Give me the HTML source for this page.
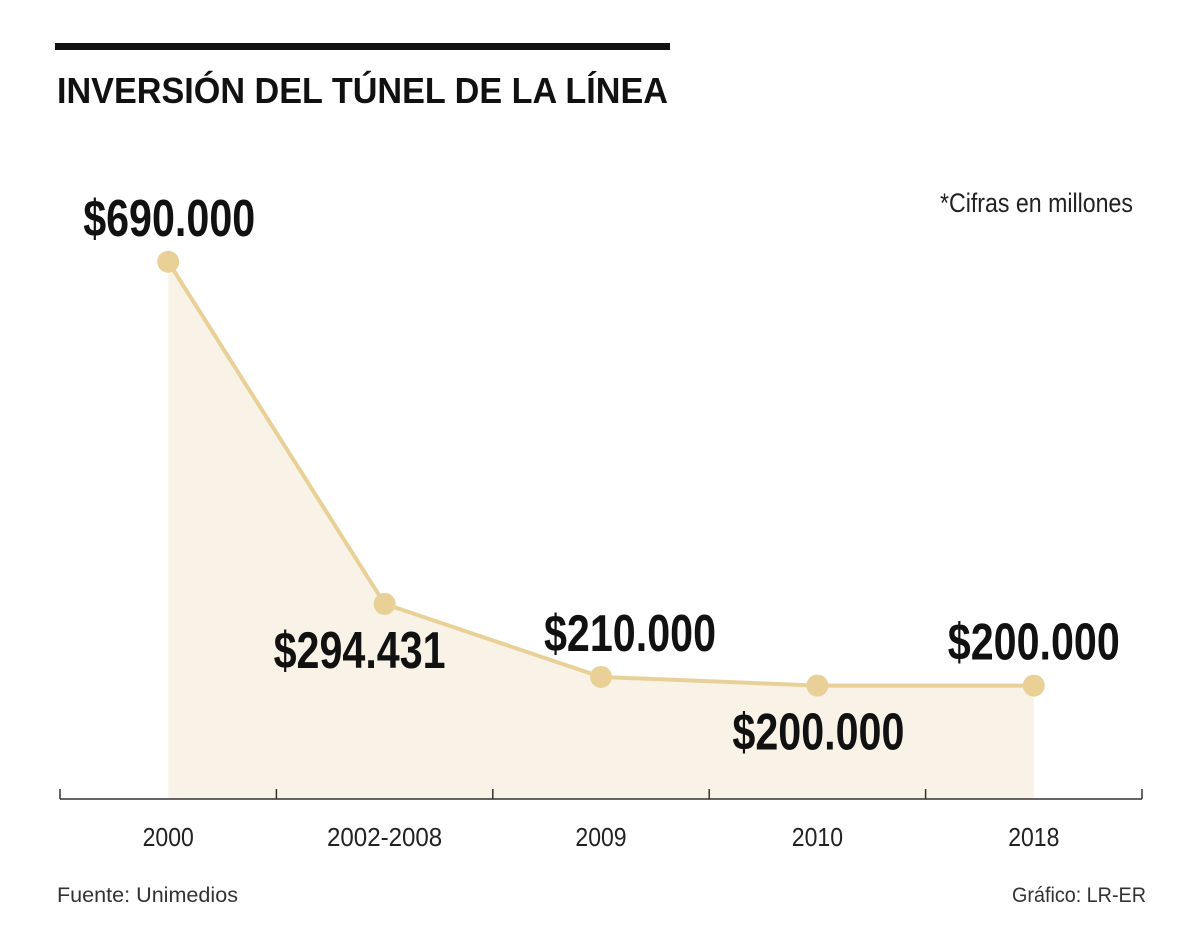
<!DOCTYPE html>
<html><head><meta charset="utf-8"><style>
html,body{margin:0;padding:0;background:#fff;}
svg{display:block;font-family:"Liberation Sans",sans-serif;}
</style></head><body>
<svg id="chart" width="1200" height="950" viewBox="0 0 1200 950" xmlns="http://www.w3.org/2000/svg">
<rect x="55" y="43" width="615" height="7" fill="#111"/>
<text x="57" y="103" font-size="36" font-weight="bold" fill="#111" textLength="611" lengthAdjust="spacingAndGlyphs">INVERSIÓN DEL TÚNEL DE LA LÍNEA</text>
<text x="940" y="212" font-size="27" fill="#222" textLength="193" lengthAdjust="spacingAndGlyphs">*Cifras en millones</text>
<g id="plot"></g>
<text x="57" y="902" font-size="21" fill="#333" textLength="181" lengthAdjust="spacingAndGlyphs">Fuente: Unimedios</text>
<text x="1146" y="902" font-size="21" fill="#333" text-anchor="end" textLength="134" lengthAdjust="spacingAndGlyphs">Gráfico: LR-ER</text>
</svg>
<script>
const categories = ["2000","2002-2008","2009","2010","2018"];
const values = [690000,294431,210000,200000,200000];
const valueLabels = ["$690.000","$294.431","$210.000","$200.000","$200.000"];
const labelAbove = [true,false,true,false,true];

const NS="http://www.w3.org/2000/svg";
const g=document.getElementById('plot');
const x0=60,x1=1142,base=799;
const band=(x1-x0)/categories.length;
function xPos(i){return x0+band*(i+0.5);}
function yPos(v){return 858.6-v*0.000865;}
function mk(t,a){const e=document.createElementNS(NS,t);for(const k in a)e.setAttribute(k,a[k]);g.appendChild(e);return e;}

let pts=values.map((v,i)=>[xPos(i),yPos(v)]);
let d="M"+pts[0][0]+","+base+" "+pts.map(p=>"L"+p[0]+","+p[1]).join(" ")+" L"+pts[pts.length-1][0]+","+base+" Z";
const area=mk('path',{d:d,fill:"#f9f3e7"});


const line=mk('polyline',{points:pts.map(p=>p.join(",")).join(" "),fill:"none",stroke:"#e9d097","stroke-width":4,"stroke-linejoin":"round"});



const axis=mk('line',{x1:x0,x2:x1,y1:base,y2:base,stroke:"#333","stroke-width":1.5});


for(let i=0;i<=categories.length;i++){
  const tx=x0+band*i;
  const t=mk('line',{x1:tx,x2:tx,y1:base-10,y2:base,stroke:"#333","stroke-width":1.5});
  
  
}
categories.forEach((c,i)=>{
  const t=mk('text',{x:xPos(i),y:846,"font-size":26,fill:"#222","text-anchor":"middle",textLength:c.length*12.8,lengthAdjust:"spacingAndGlyphs"});
  t.textContent=c;
  
  
});
const offs=[1,-25,29,1,0];
pts.forEach((p,i)=>{
  const c=mk('circle',{cx:p[0],cy:p[1],r:11,fill:"#e9d097"});
  
  
  const ly=labelAbove[i]?p[1]-26:p[1]+64;
  const t=mk('text',{x:p[0]+offs[i],y:ly,"font-size":52,"font-weight":"bold",fill:"#111","text-anchor":"middle",textLength:172,lengthAdjust:"spacingAndGlyphs"});
  t.textContent=valueLabels[i];
  
  
});
</script>
</body></html>
